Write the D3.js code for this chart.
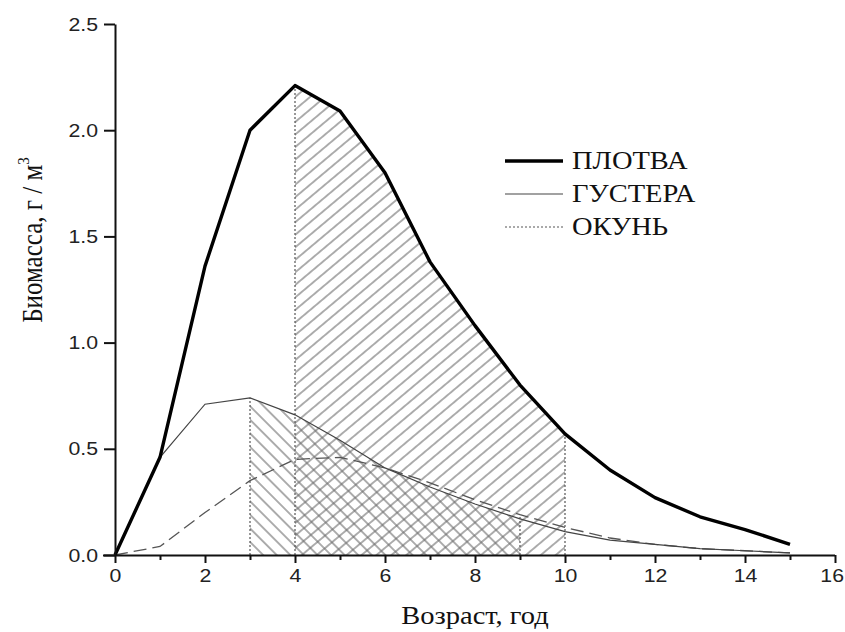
<!DOCTYPE html>
<meta charset="utf-8">
<style>
  body { margin: 0; background: #fff; }
  .tick text { font-family: "Liberation Sans", Arial, sans-serif; font-size: 19px; fill: #222; }
  .title { font-family: "Liberation Serif", "Times New Roman", serif; font-size: 25px; fill: #111; }
  .legend text { font-family: "Liberation Serif", "Times New Roman", serif; font-size: 25px; fill: #111; }
</style>
<svg width="845" height="632"></svg>
<script src="https://d3js.org/d3.v7.min.js"></script>
<script>
var ages    = [0, 1, 2, 3, 4, 5, 6, 7, 8, 9, 10, 11, 12, 13, 14, 15];
var plotva  = [0, 0.46, 1.36, 2.0, 2.21, 2.09, 1.80, 1.38, 1.08, 0.80, 0.57, 0.40, 0.27, 0.18, 0.12, 0.05];
var gustera = [0, 0.46, 0.71, 0.74, 0.66, 0.54, 0.41, 0.32, 0.24, 0.17, 0.11, 0.07, 0.05, 0.03, 0.02, 0.01];
var okun    = [0, 0.04, 0.20, 0.35, 0.45, 0.46, 0.41, 0.34, 0.26, 0.19, 0.13, 0.08, 0.05, 0.03, 0.02, 0.01];

// hatched age ranges
var plotvaRange  = [4, 10];
var gusteraRange = [3, 9];

var xTicks = [0, 2, 4, 6, 8, 10, 12, 14, 16];
var xMinor = [1, 3, 5, 7, 9, 11, 13, 15];
var yTicks = [0, 0.5, 1.0, 1.5, 2.0, 2.5];

var legendNames = ["ПЛОТВА", "ГУСТЕРА", "ОКУНЬ"];

var svg = d3.select("svg");
var stretch = 1.14;    // text in the original looks a bit wide
var tickStretch = 1.12;

var x = d3.scaleLinear().domain([0, 16]).range([115, 835]);
var y = d3.scaleLinear().domain([0, 2.5]).range([555, 24]);

var defs = svg.append("defs");
function hatch(id, angle, gap) {
  var p = defs.append("pattern").attr("id", id)
    .attr("patternUnits", "userSpaceOnUse")
    .attr("width", 20).attr("height", gap)
    .attr("patternTransform", "rotate(" + angle + ")");
  p.append("line").attr("x1", 0).attr("x2", 20).attr("y1", gap / 2).attr("y2", gap / 2)
    .attr("stroke", "#6c6c6c").attr("stroke-width", 1.1);
}
hatch("hatchUp", -40, 9.6);
hatch("hatchDown", 45, 9.6);

function series(vals) { return ages.map(function(a, i) { return {a: a, v: vals[i]}; }); }
var dPlotva = series(plotva), dGustera = series(gustera), dOkun = series(okun);

function rangeArea(range) {
  return d3.area()
    .defined(function(d) { return d.a >= range[0] && d.a <= range[1]; })
    .x(function(d) { return x(d.a); })
    .y0(y(0))
    .y1(function(d) { return y(d.v); });
}

svg.append("path").datum(dGustera).attr("d", rangeArea(gusteraRange)).attr("fill", "url(#hatchDown)");
svg.append("path").datum(dPlotva).attr("d", rangeArea(plotvaRange)).attr("fill", "url(#hatchUp)");

// dotted bounds
var bounds = [
  {a: gusteraRange[0], v: gustera[ages.indexOf(gusteraRange[0])]},
  {a: plotvaRange[0],  v: plotva[ages.indexOf(plotvaRange[0])]},
  {a: gusteraRange[1], v: okun[ages.indexOf(gusteraRange[1])]},
  {a: plotvaRange[1],  v: plotva[ages.indexOf(plotvaRange[1])]}
];
svg.append("g").selectAll("line").data(bounds).enter().append("line")
  .attr("x1", function(d) { return x(d.a); }).attr("x2", function(d) { return x(d.a); })
  .attr("y1", y(0)).attr("y2", function(d) { return y(d.v); })
  .attr("stroke", "#555").attr("stroke-width", 1.2).attr("stroke-dasharray", "2,2");

var line = d3.line().x(function(d) { return x(d.a); }).y(function(d) { return y(d.v); });

svg.append("path").datum(dOkun).attr("d", line).attr("fill", "none")
  .attr("stroke", "#555").attr("stroke-width", 1.3).attr("stroke-dasharray", "13,6");
svg.append("path").datum(dGustera).attr("d", line).attr("fill", "none")
  .attr("stroke", "#444").attr("stroke-width", 1.2);
svg.append("path").datum(dPlotva).attr("d", line).attr("fill", "none")
  .attr("stroke", "#000").attr("stroke-width", 3.4).attr("stroke-linejoin", "round");

// axes
var xAxis = svg.append("g").attr("transform", "translate(0," + y(0) + ")")
  .call(d3.axisBottom(x).tickValues(xTicks).tickFormat(d3.format("d")).tickSize(8).tickSizeOuter(0).tickPadding(6));
svg.append("g").attr("transform", "translate(0," + y(0) + ")")
  .call(d3.axisBottom(x).tickValues(xMinor).tickFormat("").tickSize(5).tickSizeOuter(0))
  .select(".domain").remove();
var yAxis = svg.append("g").attr("transform", "translate(" + x(0) + ",0)")
  .call(d3.axisLeft(y).tickValues(yTicks).tickFormat(d3.format(".1f")).tickSize(11).tickSizeOuter(0));

xAxis.selectAll(".tick text").attr("transform", "scale(" + tickStretch + ",1)")
  .attr("dx", function(d) { return d === 16 ? -3 : 0; });
yAxis.selectAll(".tick text").attr("x", -17 / tickStretch).attr("transform", "scale(" + tickStretch + ",1)");

xAxis.select(".domain").attr("d", "M103,0.5H" + x(16));
svg.selectAll(".domain").attr("stroke", "#111").attr("stroke-width", 2);
svg.selectAll(".tick line").attr("stroke", "#111").attr("stroke-width", 2);

svg.append("text").attr("class", "title")
  .attr("transform", "translate(475,624) scale(" + stretch + ",1)")
  .attr("text-anchor", "middle").text("Возраст, год");

var yt = svg.append("text").attr("class", "title")
  .attr("transform", "translate(42,240) scale(" + stretch + ",1) rotate(-90)").attr("text-anchor", "middle");
yt.append("tspan").text("Биомасса, г / м");
yt.append("tspan").attr("dy", -11).attr("font-size", 15).text("3");

// legend
var legendStyles = [
  {w: 3.4, c: "#000", dash: null},
  {w: 1.2, c: "#444", dash: null},
  {w: 1.2, c: "#555", dash: "2,2"}
];
var lg = svg.append("g").attr("class", "legend").selectAll("g").data(legendNames).enter().append("g")
  .attr("transform", function(d, i) { return "translate(505," + (161 + i * 33) + ")"; });
lg.append("line").attr("x1", 0).attr("x2", 58)
  .attr("stroke", function(d, i) { return legendStyles[i].c; })
  .attr("stroke-width", function(d, i) { return legendStyles[i].w; })
  .attr("stroke-dasharray", function(d, i) { return legendStyles[i].dash; });
lg.append("text").attr("transform", "translate(67,8) scale(" + stretch + ",1)").text(function(d) { return d; });
</script>
